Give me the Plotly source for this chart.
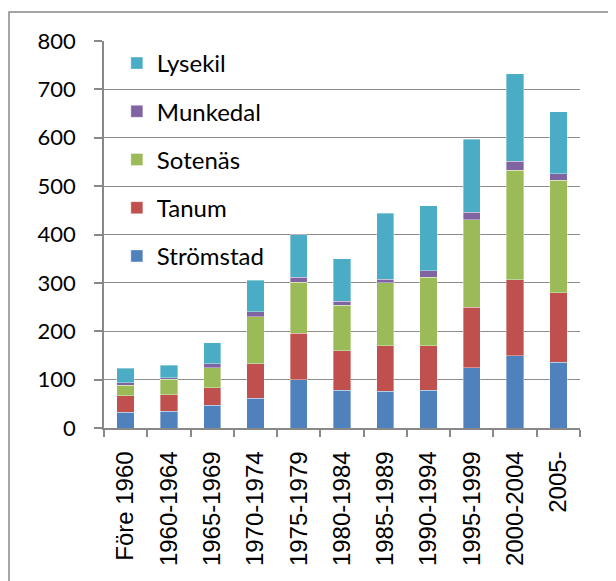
import plotly.graph_objects as go

categories = ["Före 1960", "1960-1964", "1965-1969", "1970-1974", "1975-1979",
              "1980-1984", "1985-1989", "1990-1994", "1995-1999", "2000-2004", "2005-"]
stromstad = [33, 35, 47, 61, 100, 78, 76, 78, 125, 149, 136]
tanum = [34, 34, 36, 72, 96, 82, 94, 92, 125, 157, 144]
sotenas = [21, 32, 42, 97, 105, 94, 130, 142, 180, 227, 232]
munkedal = [6, 3, 8, 10, 11, 8, 8, 13, 16, 18, 14]
lysekil = [30, 26, 43, 65, 87, 88, 136, 134, 151, 181, 128]

series = [
    ("Strömstad", stromstad, "#4F81BD"),
    ("Tanum", tanum, "#C0504D"),
    ("Sotenäs", sotenas, "#9BBB59"),
    ("Munkedal", munkedal, "#8064A2"),
    ("Lysekil", lysekil, "#4BACC6"),
]

fig = go.Figure()
n = len(series)
for i, (name, vals, color) in enumerate(series):
    fig.add_trace(go.Bar(
        x=categories, y=vals, name=name, legendgroup=name,
        legendrank=n - i,
        marker=dict(color=color, line=dict(color="rgba(255,255,255,0.6)", width=0.6)),
    ))

fig.update_layout(
    barmode="stack",
    bargap=0.6,
    width=608, height=573,
    margin=dict(l=96, r=36, t=33, b=153),
    paper_bgcolor="white",
    plot_bgcolor="white",
    font=dict(family="Lato, Liberation Sans, sans-serif", color="black", size=22),
    legend=dict(
        x=0.027, y=1.0, xanchor="left", yanchor="top",
        traceorder="grouped", tracegroupgap=14,
        bgcolor="rgba(0,0,0,0)",
        font=dict(family="Lato, sans-serif", size=24, color="black"),
    ),
    xaxis=dict(
        type="category",
        tickangle=-90,
        tickson="boundaries",
        ticks="outside", ticklen=7, tickcolor="#888888", tickwidth=1.5,
        showline=True, linecolor="#888888", linewidth=1.5,
        showgrid=False,
        tickfont=dict(family="Liberation Sans, Arial, sans-serif", size=24, color="black"),
        ticklabelstandoff=12,
    ),
    yaxis=dict(
        range=[0, 800], dtick=100,
        ticks="outside", ticklen=8, tickcolor="#888888", tickwidth=1.5,
        showline=True, linecolor="#888888", linewidth=1.5,
        showgrid=True, gridcolor="#8c8c8c", gridwidth=1.3,
        zeroline=False,
        tickfont=dict(family="Lato, sans-serif", size=22, color="black"),
        ticklabelstandoff=14,
    ),
    shapes=[dict(
        type="rect", xref="paper", yref="paper",
        x0=-0.1996, x1=1.3, y0=-0.6, y1=1.075,
        line=dict(color="#888888", width=1.5), fillcolor="rgba(0,0,0,0)",
        layer="above",
    )],
)

fig.write_html("out.html")
